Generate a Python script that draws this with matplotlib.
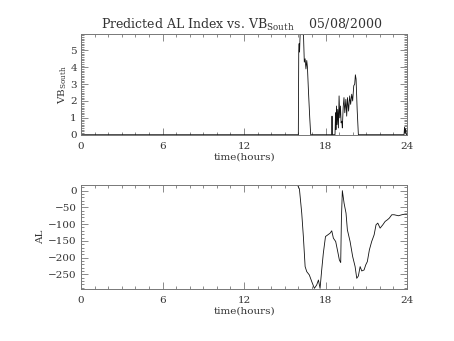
import matplotlib
matplotlib.use('Agg')
import matplotlib.pyplot as plt
from matplotlib.ticker import MultipleLocator

plt.rcParams['font.family'] = 'DejaVu Serif'
plt.rcParams['mathtext.fontset'] = 'custom'
plt.rcParams['mathtext.rm'] = 'DejaVu Serif'
plt.rcParams['font.size'] = 7.5

# Southward IMF component (hours, nT)
vb_hours = [0.0, 16.00, 16.03, 16.06, 16.09, 16.13, 16.20, 16.30, 16.38, 16.44, 16.50,
            16.56, 16.62, 16.67, 16.75, 16.84, 16.91,
            18.45, 18.48, 18.51, 18.70, 18.74, 18.77, 18.81, 18.85, 18.90, 18.95,
            19.00, 19.05, 19.10, 19.15, 19.20, 19.24, 19.30, 19.36, 19.42, 19.50,
            19.56, 19.62, 19.70, 19.78, 19.85, 19.93, 20.00, 20.08, 20.15, 20.20,
            20.25, 20.33, 20.42,
            23.78, 23.82, 23.86, 23.90, 23.95, 24.0]
vb_south = [0.0, 0.0, 5.0, 5.4, 4.9, 5.9, 6.0, 5.95, 5.9, 4.3, 4.5,
            3.9, 4.4, 4.0, 2.5, 1.0, 0.0,
            0.0, 1.1, 0.0, 0.0, 1.3, 0.3, 1.7, 0.6, 1.5, 0.4,
            2.3, 1.0, 1.7, 0.7, 0.8, 0.4, 1.6, 2.2, 1.3, 2.1,
            1.1, 2.2, 1.4, 2.3, 1.8, 2.4, 2.0, 2.9, 3.0, 3.55,
            3.3, 1.5, 0.0,
            0.0, 0.45, 0.1, 0.35, 0.0, 0.0]

# Predicted AL index (hours, nT)
al_hours = [15.95, 16.08, 16.25, 16.37, 16.50, 16.62, 16.81, 16.99, 17.18, 17.35,
            17.48, 17.60, 17.72, 17.84, 18.00, 18.14, 18.34, 18.46, 18.58, 18.75,
            18.90, 19.02, 19.12, 19.17, 19.24, 19.37, 19.51, 19.61, 19.81, 20.00,
            20.18, 20.30, 20.42, 20.55, 20.67, 20.84, 20.96, 21.08, 21.23, 21.40,
            21.58, 21.72, 21.85, 22.02, 22.22, 22.39, 22.56, 22.70, 22.88, 23.05,
            23.37, 23.62, 23.86, 24.0]
al_index = [16, 5, -67, -137, -227, -242, -252, -272, -292, -282,
            -267, -292, -237, -187, -137, -133, -127, -120, -142, -152,
            -182, -207, -215, -87, 0, -38, -67, -117, -152, -197,
            -227, -262, -255, -227, -240, -237, -222, -212, -177, -152,
            -132, -102, -97, -112, -102, -92, -87, -82, -72, -72,
            -75, -72, -70, -70]

xticks = [0, 6, 12, 18, 24]

fig = plt.figure(figsize=(4.54, 3.41), dpi=100)
W, H = 454, 341
ax1 = fig.add_axes([81 / W, 1 - 134.7 / H, 326 / W, 100.7 / H])
ax2 = fig.add_axes([81 / W, 1 - 288.7 / H, 326 / W, 103.4 / H])

for ax in (ax1, ax2):
    ax.set_xlim(0, 24)
    ax.set_xticks(xticks)
    ax.xaxis.set_minor_locator(MultipleLocator(1))
    ax.tick_params(which='both', direction='in', top=True, right=True,
                   color='#777777', width=0.6, labelcolor='#333333', pad=5)
    ax.tick_params(axis='y', which='both', pad=3)
    ax.tick_params(which='major', length=5)
    ax.tick_params(which='minor', length=2.5)
    for s in ax.spines.values():
        s.set_color('#777777')
        s.set_linewidth(0.7)
    ax.set_xlabel('time(hours)', color='#333333', labelpad=1)

ax1.plot(vb_hours, vb_south, color='#111111', linewidth=0.6)
ax1.set_ylim(0, 5.97)
ax1.set_yticks([0, 1, 2, 3, 4, 5])
ax1.yaxis.set_minor_locator(MultipleLocator(0.1))
ax1.set_ylabel(r'VB$_{\mathrm{South}}$', color='#333333')
ax1.yaxis.set_label_coords(-0.036, 0.5)

ax2.plot(al_hours, al_index, color='#111111', linewidth=0.6)
ax2.set_ylim(-293, 16)
ax2.set_yticks([0, -50, -100, -150, -200, -250])
ax2.yaxis.set_minor_locator(MultipleLocator(10))
ax2.set_ylabel('AL', color='#333333')
ax2.yaxis.set_label_coords(-0.11, 0.5)

fig.text(242 / W, 1 - 25 / H, r'Predicted AL Index vs. VB$_{\mathrm{South}}$    05/08/2000',
         ha='center', va='center', fontsize=9.0, color='#333333')

fig.savefig('out.png', dpi=100)
